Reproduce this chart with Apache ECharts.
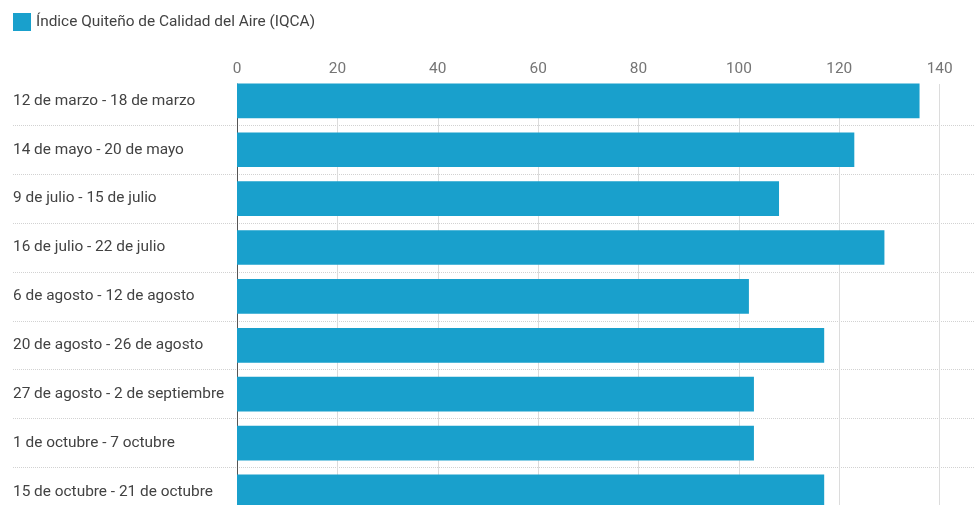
<!DOCTYPE html>
<html>
<head>
<meta charset="utf-8">
<script src="https://cdn.jsdelivr.net/npm/echarts@6/dist/echarts.min.js"></script>
<style>
  html, body { margin: 0; padding: 0; background: #fff; }
  #chart { width: 974px; height: 505px; }
</style>
</head>
<body>
<div id="chart"></div>
<script>
// Weekly air quality index for Quito
const seriesName = 'Índice Quiteño de Calidad del Aire (IQCA)';
const weeks = [
  '12 de marzo - 18 de marzo',
  '14 de mayo - 20 de mayo',
  '9 de julio - 15 de julio',
  '16 de julio - 22 de julio',
  '6 de agosto - 12 de agosto',
  '20 de agosto - 26 de agosto',
  '27 de agosto - 2 de septiembre',
  '1 de octubre - 7 octubre',
  '15 de octubre - 21 de octubre'
];
const iqca = [136, 123, 108, 129, 102, 117, 103, 103, 117];
const xTicks = [0, 20, 40, 60, 80, 100, 120, 140];

const barColor = '#19a0cc';
const axisMax = 160;
const font = 'Roboto, "Noto Sans", sans-serif';
const textSize = 15.4;

const chart = echarts.init(document.getElementById('chart'), null, { renderer: 'canvas' });

chart.setOption({
  animation: false,
  legend: {
    data: [seriesName],
    left: 13,
    top: 13,
    padding: 0,
    icon: 'rect',
    itemWidth: 18,
    itemHeight: 18,
    textStyle: { fontFamily: font, fontSize: textSize, color: '#424242' }
  },
  grid: [
    // row labels and dotted row separators
    { left: 13, top: 76.4, width: 961, height: 440, outerBoundsMode: 'none' },
    // bars
    { left: 237, top: 76.4, width: 803, height: 440, outerBoundsMode: 'none' },
    // value grid lines and zero line
    { left: 237, top: 84, width: 803, height: 440, outerBoundsMode: 'none' }
  ],
  xAxis: [
    { gridIndex: 0, type: 'value', min: 0, max: 1, show: false },
    { gridIndex: 1, type: 'value', min: 0, max: axisMax, interval: 20, show: false },
    {
      gridIndex: 2,
      type: 'value',
      position: 'top',
      min: 0,
      max: axisMax,
      interval: 20,
      axisLine: { show: false },
      axisTick: { show: false },
      axisLabel: {
        margin: 7,
        color: '#757575',
        fontFamily: font,
        fontSize: textSize,
        formatter: v => (xTicks.includes(v) ? String(v) : '')
      },
      splitLine: { show: true, lineStyle: { color: '#dcdcdc', width: 1 } }
    }
  ],
  yAxis: [
    {
      gridIndex: 0,
      type: 'category',
      data: weeks,
      inverse: true,
      axisLine: { show: false },
      axisTick: { show: false },
      axisLabel: {
        inside: true,
        margin: 0,
        color: '#424242',
        fontFamily: font,
        fontSize: textSize
      },
      splitLine: {
        show: true,
        showMinLine: false,
        showMaxLine: false,
        lineStyle: { type: 'dotted', color: '#d2d2d2', width: 1 }
      }
    },
    { gridIndex: 1, type: 'category', data: weeks, inverse: true, show: false },
    {
      gridIndex: 2,
      type: 'value',
      min: 0,
      max: 1,
      axisLine: { show: true, onZero: false, lineStyle: { color: '#555', width: 1 } },
      axisTick: { show: false },
      axisLabel: { show: false },
      splitLine: { show: false }
    }
  ],
  series: [
    {
      name: seriesName,
      type: 'bar',
      xAxisIndex: 1,
      yAxisIndex: 1,
      data: iqca,
      barCategoryGap: '29%',
      itemStyle: { color: barColor },
      z: 3
    }
  ]
});
</script>
</body>
</html>
